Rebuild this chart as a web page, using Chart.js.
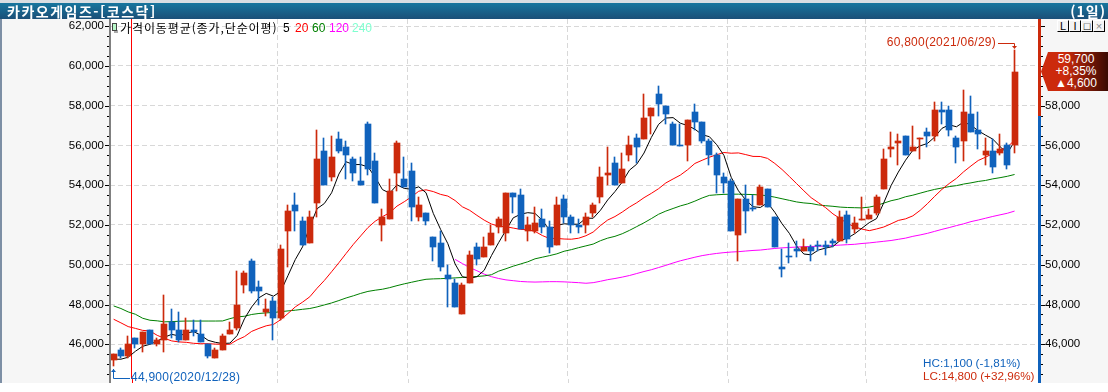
<!DOCTYPE html>
<html lang="ko">
<head>
<meta charset="utf-8">
<title>카카오게임즈</title>
<script src="https://cdn.jsdelivr.net/npm/chart.js@4/dist/chart.umd.js"></script>
<style>
    html, body { margin: 0; padding: 0; background: #fff; overflow: hidden; }
    #wrap { position: relative; width: 1108px; height: 392px; overflow: hidden; font-family: "Noto Sans CJK KR", sans-serif; }
    #wrap div, #wrap span { position: absolute; white-space: nowrap; }
    canvas { position: absolute; left: 0; top: 0; }
    #topStrip { left: 0; top: 0; width: 1108px; height: 3px; background: #d9dee2; }
    #titleBar { left: 0; top: 3px; width: 1108px; height: 16px; background: linear-gradient(#17769e, #1b4f78); }
    #titleText { left: 7px; top: -2px; color: #fff; font-size: 14px; font-weight: 700; letter-spacing: 1.5px; line-height: 20px; }
    #periodText { right: 2px; top: -2px; color: #fff; font-size: 14px; font-weight: 700; letter-spacing: 1px; line-height: 20px; }
    #legend span { top: 19px; font-size: 12px; line-height: 18px; font-family: "Liberation Sans", sans-serif; }
    #legendBox { left: 112px; top: 23px; width: 3px; height: 6px; background: #b8f8c8; border: 1px solid #444; }
    #legendShadow { left: 114px; top: 30px; width: 4px; height: 3px; background: #aaa; }
    .btn { top: 20px; width: 10px; height: 10px; background: #f4f4f4; border: 1px solid; border-color: #fff #000 #000 #fff; font: 11px/10px "Liberation Sans", sans-serif; text-align: center; color: #000; }
    #flag { left: 1041px; top: 52px; width: 67px; height: 39px; background: linear-gradient(90deg, #cc2a0c 0%, #cc2a0c 35%, #3a0a02 100%); clip-path: polygon(7px 0, 100% 0, 100% 100%, 7px 100%, 0 50%); }
    #flag span { left: 0; width: 70px; text-align: center; color: #fff; font: 12px/13px "Liberation Sans", sans-serif; }
</style>
</head>
<body>
<div id="wrap">
    <canvas id="chart" width="1108" height="392"></canvas>
    <div id="topStrip"></div>
    <div id="titleBar">
        <div id="titleText">카카오게임즈-[코스닥]</div>
        <div id="periodText">(1일)</div>
    </div>
    <div id="legend">
        <div id="legendShadow"></div>
        <div id="legendBox"></div>
        <span style="left:120px;color:#000;font-family:'Noto Sans CJK KR';letter-spacing:0.9px">가격이동평균(종가,단순이평)</span>
        <span style="left:283px;color:#000">5</span>
        <span style="left:295px;color:#ff0000">20</span>
        <span style="left:312px;color:#008000">60</span>
        <span style="left:329px;color:#ff00ff">120</span>
        <span style="left:352px;color:#80ffd0">240</span>
    </div>
    <div class="btn" style="left:1057px">L</div>
    <div class="btn" style="left:1069px">I</div>
    <div class="btn" style="left:1081px">□</div>
    <div class="btn" style="left:1093px;color:#888">×</div>
    <div id="flag">
        <span style="top:1px">59,700</span>
        <span style="top:13px">+8,35%</span>
        <span style="top:25px">▲4,600</span>
    </div>
</div>

<script>
const dates = [
    "2020/12/28", "2020/12/29", "2020/12/30",
    "01/04", "01/05", "01/06", "01/07", "01/08", "01/11", "01/12", "01/13", "01/14", "01/15",
    "01/18", "01/19", "01/20", "01/21", "01/22", "01/25", "01/26", "01/27", "01/28", "01/29",
    "02/01", "02/02", "02/03", "02/04", "02/05", "02/08", "02/09", "02/10",
    "02/15", "02/16", "02/17", "02/18", "02/19", "02/22", "02/23", "02/24", "02/25", "02/26",
    "03/02", "03/03", "03/04", "03/05", "03/08", "03/09", "03/10", "03/11", "03/12",
    "03/15", "03/16", "03/17", "03/18", "03/19", "03/22", "03/23", "03/24", "03/25", "03/26",
    "03/29", "03/30", "03/31",
    "04/01", "04/02", "04/05", "04/06", "04/07", "04/08", "04/09", "04/12", "04/13", "04/14", "04/15", "04/16",
    "04/19", "04/20", "04/21", "04/22", "04/23", "04/26", "04/27", "04/28", "04/29", "04/30",
    "05/03", "05/04", "05/06", "05/07", "05/10", "05/11", "05/12", "05/13", "05/14",
    "05/17", "05/18", "05/20", "05/21", "05/24", "05/25", "05/26", "05/27", "05/28", "05/31",
    "06/01", "06/02", "06/03", "06/04", "06/07", "06/08", "06/09", "06/10", "06/11",
    "06/14", "06/15", "06/16", "06/17", "06/18", "06/21", "06/22", "06/23", "06/24", "06/25",
    "06/28", "06/29",
];
// 오른쪽 빈 칸
const emptySlots = ["06/30", "07/01", "07/02"];

const opens = [
    45200, 45700, 45400, 46300, 46000, 46700, 46000, 46200, 47100, 46700, 46200, 46700, 46500, 46000, 45300, 45700, 46500, 46800, 49000, 50200,
    48900, 47600, 48200, 47300, 51700, 53000, 52200, 51100, 53100, 55700, 54400, 56300, 55900, 55300, 54200, 57100, 55200, 52000, 52300, 54600,
    54300, 54700, 52400, 52600, 51400, 51100, 49500, 49100, 47500, 49100, 50900, 50400, 51000, 51900, 51600, 53600, 53500, 51700, 51700, 52300,
    51900, 51000, 53300, 52400, 52000, 52000, 52600, 53400, 54500, 55100, 54100, 55500, 56400, 56300, 57500, 58600, 58000, 57100, 56000, 56000,
    57700, 57200, 56200, 55500, 54400, 54200, 51500, 53300, 52850, 53000, 53800, 52400, 49900, 50450, 50800, 50700, 50900, 51000, 51000, 51200,
    51200, 52500, 51800, 52250, 52300, 52600, 53800, 55800, 56100, 56500, 55700, 56300, 56700, 56500, 57800, 57800, 56400, 56200, 57600, 56800,
    55500, 55700, 55600, 56000, 56000,
];
const highs = [
    45500, 45800, 46400, 46300, 46600, 46700, 46300, 48500, 47800, 47600, 47300, 47200, 47200, 46000, 45800, 46500, 47100, 49700, 49700, 50300,
    49200, 48300, 48400, 51000, 53000, 53600, 52400, 52700, 56800, 56400, 56500, 56700, 56200, 55400, 55400, 57200, 55600, 52800, 54300, 56200,
    55400, 55100, 53400, 52600, 51400, 51700, 50000, 49300, 49100, 50700, 51100, 51400, 52000, 52400, 53600, 53600, 53800, 52400, 52900, 52800,
    52200, 53400, 53500, 52500, 52300, 52600, 53100, 54900, 55900, 55400, 55600, 56500, 56600, 58600, 57900, 59000, 58000, 57200, 57100, 57300,
    58100, 57200, 56300, 55600, 54600, 54300, 53300, 54000, 53500, 54000, 53800, 52400, 50800, 51100, 51200, 51300, 51000, 51200, 51200, 51300,
    52700, 52700, 52400, 53400, 52800, 53500, 55800, 56700, 56600, 56500, 57000, 56400, 56900, 58200, 58200, 58000, 56500, 58800, 58500, 57700,
    56400, 56300, 56600, 56100, 60800,
];
const lows = [
    44900, 45300, 45300, 45800, 45600, 46000, 45900, 45600, 46300, 46100, 46200, 46400, 46100, 45300, 45300, 45700, 46500, 46700, 48600, 48600,
    48000, 47400, 46200, 47200, 49900, 51700, 51000, 51100, 52400, 54000, 54200, 55600, 54300, 54200, 54000, 54500, 53100, 51200, 52300, 53700,
    53900, 52200, 52200, 52000, 50200, 49700, 47900, 47900, 47500, 49100, 50000, 50400, 51000, 51600, 51200, 52600, 51800, 51200, 51600, 51600,
    50600, 51000, 52100, 51600, 51600, 51600, 52400, 53100, 54000, 54000, 54100, 55200, 55100, 56300, 56600, 57500, 57100, 56000, 55950, 55200,
    56800, 56100, 55000, 53600, 53600, 51700, 50200, 51600, 52700, 53000, 52900, 50900, 49400, 50100, 50400, 50700, 50200, 50700, 50500, 50900,
    51200, 51100, 51600, 52250, 52300, 52500, 53800, 55400, 55000, 55500, 55700, 55300, 55900, 56200, 57100, 56500, 55100, 55200, 56700, 55800,
    55000, 54600, 55500, 54800, 55600,
];
const closes = [
    45500, 45400, 46000, 46000, 46600, 46000, 46200, 47000, 46700, 46200, 46700, 46600, 46100, 45400, 45700, 46400, 46700, 48000, 49600, 48700,
    48700, 47800, 47300, 50800, 52700, 52700, 51000, 52400, 55300, 54000, 55400, 55700, 55500, 54600, 54000, 54800, 53100, 52400, 53700, 56100,
    53900, 52900, 53000, 52200, 50900, 49900, 49300, 47900, 49000, 50500, 50300, 50900, 51600, 52300, 53600, 53400, 51800, 52000, 52100, 51900,
    50900, 53000, 52400, 52000, 51900, 52400, 53000, 54400, 54600, 54000, 54800, 56000, 55900, 57400, 57900, 58100, 57600, 56000, 55950, 57300,
    57200, 56200, 55500, 54500, 54100, 51700, 53300, 52700, 52800, 53900, 52900, 50900, 49800, 50400, 50700, 50900, 50700, 50950, 50900, 51100,
    52400, 51300, 52100, 52300, 52500, 53400, 55300, 55900, 56200, 55500, 55900, 56400, 56500, 57800, 57700, 56800, 55900, 57700, 56700, 56600,
    55700, 54900, 55800, 55000, 59700,
];

const ma5 = [
    45250, 45250, 45350, 45650, 45900, 46000, 46160, 46360, 46500, 46420, 46560, 46640, 46460, 46200, 46100, 46040, 46060, 46440, 47280, 47880,
    48340, 48560, 48420, 48660, 49460, 50260, 50900, 51920, 52820, 53080, 53620, 54560, 55180, 55040, 55040, 54920, 54400, 53780, 53600, 54020,
    53840, 53800, 53920, 53620, 52580, 51780, 51060, 50040, 49400, 49320, 49400, 49720, 50460, 51120, 51740, 52360, 52540, 52620, 52580, 52240,
    51740, 51980, 52060, 52040, 52040, 52340, 52340, 52740, 53260, 53680, 54160, 54760, 55060, 55620, 56400, 57060, 57380, 57400, 57120, 57000,
    56820, 56540, 56440, 56040, 55500, 54400, 53720, 53260, 52920, 52880, 53120, 52640, 52060, 51580, 50940, 50540, 50500, 50740, 50840, 50920,
    51220, 51340, 51560, 51840, 52120, 52320, 53120, 53980, 54660, 55260, 55760, 55980, 56100, 56420, 56860, 57040, 56940, 57180, 57020, 56740,
    56520, 56320, 55940, 55600, 56220,
];
const ma20 = [
    47260, 47080, 46890, 46800, 46700, 46670, 46450, 46300, 46170, 46120, 46100, 46050, 46030, 46030, 46010, 46000, 46000, 46220, 46385, 46650,
    46800, 46930, 47000, 47240, 47550, 47880, 48120, 48390, 48820, 49210, 49650, 50100, 50570, 51030, 51450, 51870, 52190, 52420, 52620, 52950,
    53170, 53415, 53700, 53770, 53680, 53540, 53455, 53230, 52915, 52740, 52485, 52245, 52050, 51935, 51915, 51845, 51780, 51760, 51680, 51470,
    51320, 51325, 51295, 51285, 51335, 51460, 51645, 51970, 52250, 52425, 52650, 52905, 53120, 53375, 53590, 53825, 54115, 54315, 54510, 54780,
    55095, 55255, 55410, 55535, 55645, 55610, 55625, 55540, 55450, 55445, 55350, 55095, 54790, 54440, 54080, 53720, 53375, 53125, 52870, 52560,
    52320, 52075, 51905, 51795, 51715, 51800, 51900, 52060, 52230, 52310, 52460, 52735, 53070, 53440, 53790, 54085, 54345, 54680, 54970, 55245,
    55410, 55590, 55775, 55910, 56270,
];
const ma60 = [
    47930, 47800, 47630, 47510, 47310, 47210, 47180, 47130, 47140, 47160, 47170, 47170, 47170, 47170, 47170, 47175, 47290, 47380, 47410, 47500,
    47550, 47580, 47600, 47640, 47680, 47715, 47760, 47800, 47880, 47980, 48080, 48200, 48330, 48440, 48560, 48660, 48720, 48770, 48850, 48950,
    49040, 49120, 49200, 49270, 49290, 49300, 49320, 49340, 49360, 49390, 49410, 49440, 49500, 49680, 49800, 49930, 50040, 50150, 50300, 50380,
    50460, 50550, 50680, 50760, 50860, 50950, 51040, 51210, 51340, 51430, 51560, 51730, 51920, 52110, 52320, 52540, 52700, 52830, 52960, 53060,
    53200, 53360, 53490, 53520, 53540, 53550, 53550, 53540, 53530, 53510, 53470, 53400, 53320, 53240, 53160, 53110, 53080, 53010, 52970, 52940,
    52900, 52880, 52870, 52860, 52900, 52980, 53100, 53220, 53300, 53420, 53500, 53600, 53700, 53790, 53860, 53930, 53980, 54060, 54120, 54190,
    54240, 54320, 54380, 54450, 54540,
];
const ma120Start = 47;
const ma120Values = [
    50270, 50060, 49860, 49700, 49530, 49400, 49310, 49240, 49200, 49160, 49140, 49130, 49140, 49150, 49150, 49140, 49120, 49100, 49070,
    49100, 49170, 49250, 49310, 49380, 49460, 49560, 49660, 49750, 49860, 49970, 50090, 50200, 50290, 50380, 50460, 50520, 50570, 50610, 50640,
    50660, 50690, 50720, 50740, 50780, 50820, 50850, 50870, 50890, 50910, 50920, 50930, 50940, 50970, 50990, 51010, 51030, 51070, 51100, 51140,
    51180, 51220, 51280, 51340, 51430, 51500, 51580, 51680, 51780, 51870, 51970, 52060, 52170, 52250, 52340, 52430, 52510, 52590, 52700,
];

const priceTicks = [46000, 48000, 50000, 52000, 54000, 56000, 58000, 60000, 62000];
const rightTicks = [46000, 48000, 50000, 52000, 54000, 56000, 58000];
const monthStarts = [3, 23, 41, 63, 85, 104];
const yearStart = 3;

const RED = "#cc2a0c";
const BLUE = "#1062bc";
const AXIS_FONT = { family: '"Liberation Sans", sans-serif', size: 11.5 };
const PLOT_TOP = 19;
const PLOT_BOTTOM = 383;
// 레이아웃이 아래 14px을 남겨서 축 범위로 맞춤
const PRICE_MIN = 44250;
const PRICE_MAX = 62360;

const candleColors = closes.map((c, i) => (c >= opens[i] ? RED : BLUE));
const ma120 = new Array(ma120Start).fill(null).concat(ma120Values);

// 봉을 픽셀에 맞춘다 (안 그러면 흐려짐)
const snapPlugin = {
    id: "snapBars",
    afterDatasetsUpdate(chart) {
        chart.data.datasets.forEach((ds, n) => {
            if (ds.type !== "bar") return;
            chart.getDatasetMeta(n).data.forEach((bar) => {
                bar.x = ds.isWick ? Math.round(bar.x) - 0.5 : Math.round(bar.x);
                bar.y = Math.round(bar.y);
                bar.base = Math.round(bar.base);
            });
        });
    },
};

// 배경, 왼쪽/오른쪽 축 거터
const backgroundPlugin = {
    id: "hts-bg",
    beforeDraw(chart) {
        const { ctx, chartArea: a } = chart;
        const h = PLOT_BOTTOM - PLOT_TOP;
        ctx.save();
        ctx.fillStyle = "#f6f6f6";
        ctx.fillRect(0, PLOT_TOP, 1108, h);
        ctx.fillStyle = "#fff";
        ctx.fillRect(a.left, PLOT_TOP, a.right - a.left, h);
        ctx.fillStyle = "#7d8fa5";
        ctx.fillRect(0, PLOT_TOP, 2, h);
        ctx.restore();
    },
};

// 축선, 잔눈금, 최고/최저 표시
const overlayPlugin = {
    id: "hts-overlay",
    afterDatasetsDraw(chart) {
        const { ctx, chartArea: a, scales } = chart;
        const y = scales.y;
        const x = scales.x;
        const axisR = 1038;
        const h = PLOT_BOTTOM - PLOT_TOP;

        ctx.save();
        // 왼쪽 축선
        ctx.fillStyle = "#808080";
        ctx.fillRect(109, PLOT_TOP, 2, h);

        // 월 구분선은 아래 끝까지 이어준다
        monthStarts.forEach((idx) => {
            const px = Math.round(x.getPixelForTick(idx) - x.getPixelForTick(0) + x.left) + 0.5;
            ctx.strokeStyle = idx === yearStart ? "#ff0000" : "#d8d8d8";
            ctx.setLineDash(idx === yearStart ? [] : [5, 3]);
            ctx.beginPath();
            ctx.moveTo(px, a.bottom);
            ctx.lineTo(px, PLOT_BOTTOM);
            ctx.stroke();
        });
        ctx.setLineDash([]);

        // 오른쪽 축선: 위는 빨강 아래는 파랑
        const split = Math.round(y.getPixelForValue(57500));
        ctx.fillStyle = RED;
        ctx.fillRect(axisR, PLOT_TOP, 3, split - PLOT_TOP);
        ctx.fillStyle = BLUE;
        ctx.fillRect(axisR, split, 3, PLOT_BOTTOM - split);

        // 눈금
        ctx.fillStyle = "#000";
        for (let v = 44500; v <= 62000; v += 500) {
            const py = Math.round(y.getPixelForValue(v));
            const major = v % 2000 === 0;
            ctx.fillRect(major ? 105 : 107, py, major ? 4 : 2, 1);
            ctx.fillRect(1041, py, major ? 4 : 2, 1);
        }

        ctx.font = '12px "Liberation Sans", sans-serif';
        ctx.textBaseline = "middle";
        ctx.letterSpacing = "0.25px";

        // 최고가
        const hiIdx = highs.indexOf(Math.max(...highs));
        const hiX = Math.round(x.getPixelForValue(hiIdx)) - 0.5;
        const hiY = Math.round(y.getPixelForValue(highs[hiIdx]));
        ctx.fillStyle = RED;
        ctx.strokeStyle = RED;
        ctx.textAlign = "right";
        ctx.fillText("60,800(2021/06/29)", 996, hiY - 7);
        ctx.beginPath();
        ctx.moveTo(998, hiY - 6.5);
        ctx.lineTo(hiX, hiY - 6.5);
        ctx.lineTo(hiX, hiY - 3);
        ctx.stroke();
        ctx.beginPath();
        ctx.moveTo(hiX - 2.5, hiY - 4);
        ctx.lineTo(hiX + 2.5, hiY - 4);
        ctx.lineTo(hiX, hiY - 1);
        ctx.fill();

        // 최저가
        const loIdx = lows.indexOf(Math.min(...lows));
        const loX = Math.round(x.getPixelForValue(loIdx)) - 0.5;
        const loY = Math.round(y.getPixelForValue(lows[loIdx]));
        ctx.fillStyle = BLUE;
        ctx.strokeStyle = BLUE;
        ctx.textAlign = "left";
        ctx.fillText("44,900(2020/12/28)", 131, loY + 11.5);
        ctx.beginPath();
        ctx.moveTo(loX, loY + 3);
        ctx.lineTo(loX, loY + 12.5);
        ctx.lineTo(130, loY + 12.5);
        ctx.stroke();
        ctx.beginPath();
        ctx.moveTo(loX - 2.5, loY + 6);
        ctx.lineTo(loX + 2.5, loY + 6);
        ctx.lineTo(loX, loY + 3);
        ctx.fill();

        // HC / LC
        ctx.letterSpacing = "0px";
        ctx.font = '11.7px "Liberation Sans", sans-serif';
        ctx.textAlign = "left";
        ctx.fillStyle = BLUE;
        ctx.fillText("HC:1,100 (-1,81%)", 923, 364);
        ctx.fillStyle = RED;
        ctx.fillText("LC:14,800 (+32,96%)", 923, 376.5);
        ctx.restore();
    },
};

const priceAxis = (position, width, padding, tickValues) => ({
    type: "linear",
    position: position,
    min: PRICE_MIN,
    max: PRICE_MAX,
    afterFit: (s) => { s.width = width; },
    afterBuildTicks: (s) => { s.ticks = tickValues.map((v) => ({ value: v })); },
    ticks: {
        autoSkip: false,
        padding: padding,
        color: "#000",
        font: AXIS_FONT,
        callback: (v) => v.toLocaleString("en-US"),
    },
});

const lineDataset = (label, data, color) => ({
    type: "line",
    label: label,
    data: data,
    borderColor: color,
    borderWidth: 1,
    pointRadius: 0,
    tension: 0,
    order: 3,
});

const barDataset = (label, data, thickness, isWick) => ({
    type: "bar",
    label: label,
    data: data,
    isWick: isWick,
    backgroundColor: candleColors,
    borderWidth: 0,
    borderSkipped: false,
    barThickness: thickness,
    minBarLength: 1,
    grouped: false,
    order: isWick ? 2 : 1,
});

new Chart(document.getElementById("chart").getContext("2d"), {
    type: "bar",
    data: {
        labels: dates.concat(emptySlots),
        datasets: [
            lineDataset("5", ma5, "#000000"),
            lineDataset("20", ma20, "#ff0000"),
            lineDataset("60", ma60, "#008000"),
            lineDataset("120", ma120, "#ff00ff"),
            barDataset("wick", lows.map((l, i) => [l, highs[i]]), 1, true),
            barDataset("body", opens.map((o, i) => [o, closes[i]]), 6, false),
        ],
    },
    options: {
        responsive: false,
        animation: false,
        devicePixelRatio: 1,
        layout: { autoPadding: false, padding: { top: 19, bottom: 9, left: 0, right: 0 } },
        plugins: { legend: { display: false }, tooltip: { enabled: false } },
        scales: {
            x: {
                type: "category",
                offset: true,
                afterFit: (s) => { s.height = 0; },
                ticks: { display: false, autoSkip: false },
                border: {
                    display: false,
                    dash: (ctx) => (ctx.index === yearStart ? [] : [5, 3]),
                },
                grid: {
                    offset: true,
                    drawTicks: false,
                    lineWidth: 1,
                    color: (ctx) => {
                        if (ctx.index === yearStart) return "#ff0000";
                        return monthStarts.includes(ctx.index) ? "#d8d8d8" : "transparent";
                    },
                },
            },
            y: {
                ...priceAxis("left", 110, 6, priceTicks),
                border: { display: false, dash: [5, 3] },
                grid: { drawTicks: false, color: "#d8d8d8" },
            },
            yRight: {
                ...priceAxis("right", 68, 5, rightTicks),
                border: { display: false },
                grid: { display: false, drawTicks: false },
            },
        },
    },
    plugins: [backgroundPlugin, snapPlugin, overlayPlugin],
});
</script>
</body>
</html>
